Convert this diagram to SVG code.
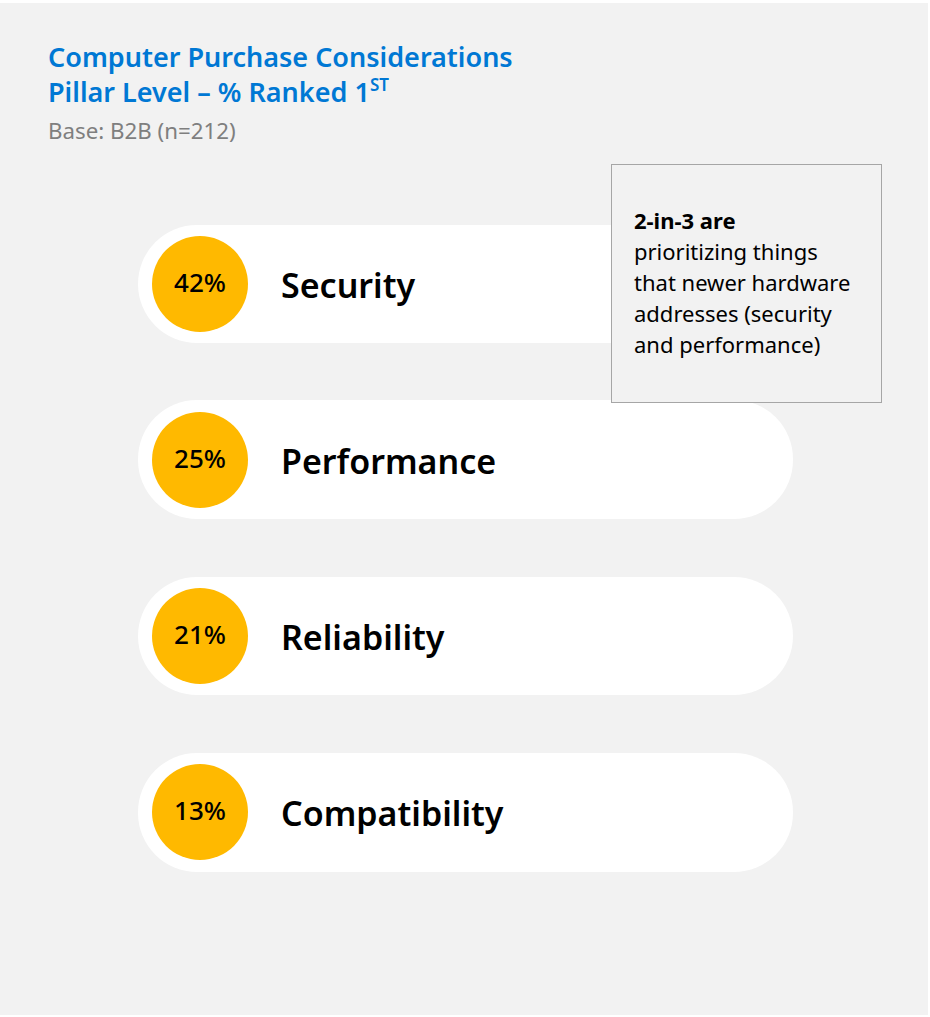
<svg xmlns="http://www.w3.org/2000/svg" width="930" height="1017" viewBox="0 0 930 1017">
<style>
.title{font-family:"Noto Sans","Open Sans",sans-serif;font-weight:600;font-size:27px;fill:#0078d4}
.base{font-family:"Noto Sans","Open Sans",sans-serif;font-size:22.3px;fill:#7f7f7f}
.pill{fill:#ffffff}
.dot{fill:#ffb900}
.pct{font-family:"Noto Sans","Open Sans",sans-serif;font-weight:500;font-size:26px;fill:#000;text-anchor:middle}
.lbl{font-family:"Noto Sans","Open Sans",sans-serif;font-weight:600;font-size:34px;fill:#000}
.note{font-family:"Noto Sans","Open Sans",sans-serif;font-size:22px;fill:#000}
</style>
<rect x="0" y="0" width="930" height="1017" fill="#ffffff"/>
<rect x="0" y="3" width="928" height="1012" fill="#f2f2f2"/>
<g id="title">
<text class="title" x="48" y="67">Computer Purchase Considerations</text>
<text class="title" x="48" y="102">Pillar Level – % Ranked 1<tspan font-size="17" dy="-11">ST</tspan></text>
<text class="base" x="48" y="139">Base: B2B (n=212)</text>
</g>
<g id="security">
<rect class="pill" x="138" y="225" width="655" height="118" rx="59"/>
<circle class="dot" cx="200" cy="284" r="48"/>
<text class="pct" x="200" y="292">42%</text>
<text class="lbl" x="281" y="298">Security</text>
</g>
<g id="performance">
<rect class="pill" x="138" y="400" width="655" height="119" rx="59"/>
<circle class="dot" cx="200" cy="460" r="48"/>
<text class="pct" x="200" y="468">25%</text>
<text class="lbl" x="281" y="474">Performance</text>
</g>
<g id="reliability">
<rect class="pill" x="138" y="577" width="655" height="118" rx="59"/>
<circle class="dot" cx="200" cy="636" r="48"/>
<text class="pct" x="200" y="644">21%</text>
<text class="lbl" x="281" y="650">Reliability</text>
</g>
<g id="compatibility">
<rect class="pill" x="138" y="753" width="655" height="119" rx="59"/>
<circle class="dot" cx="200" cy="812" r="48"/>
<text class="pct" x="200" y="820">13%</text>
<text class="lbl" x="281" y="826">Compatibility</text>
</g>
<g id="callout">
<rect x="611.5" y="164.5" width="270" height="238" fill="#f2f2f2" stroke="#a6a6a6" stroke-width="1"/>
<text class="note" x="634" y="229"><tspan font-weight="700">2-in-3 are</tspan></text>
<text class="note" x="634" y="260">prioritizing things</text>
<text class="note" x="634" y="291">that newer hardware</text>
<text class="note" x="634" y="322">addresses (security</text>
<text class="note" x="634" y="353">and performance)</text>
</g>
<g id="connectors"></g>
</svg>
